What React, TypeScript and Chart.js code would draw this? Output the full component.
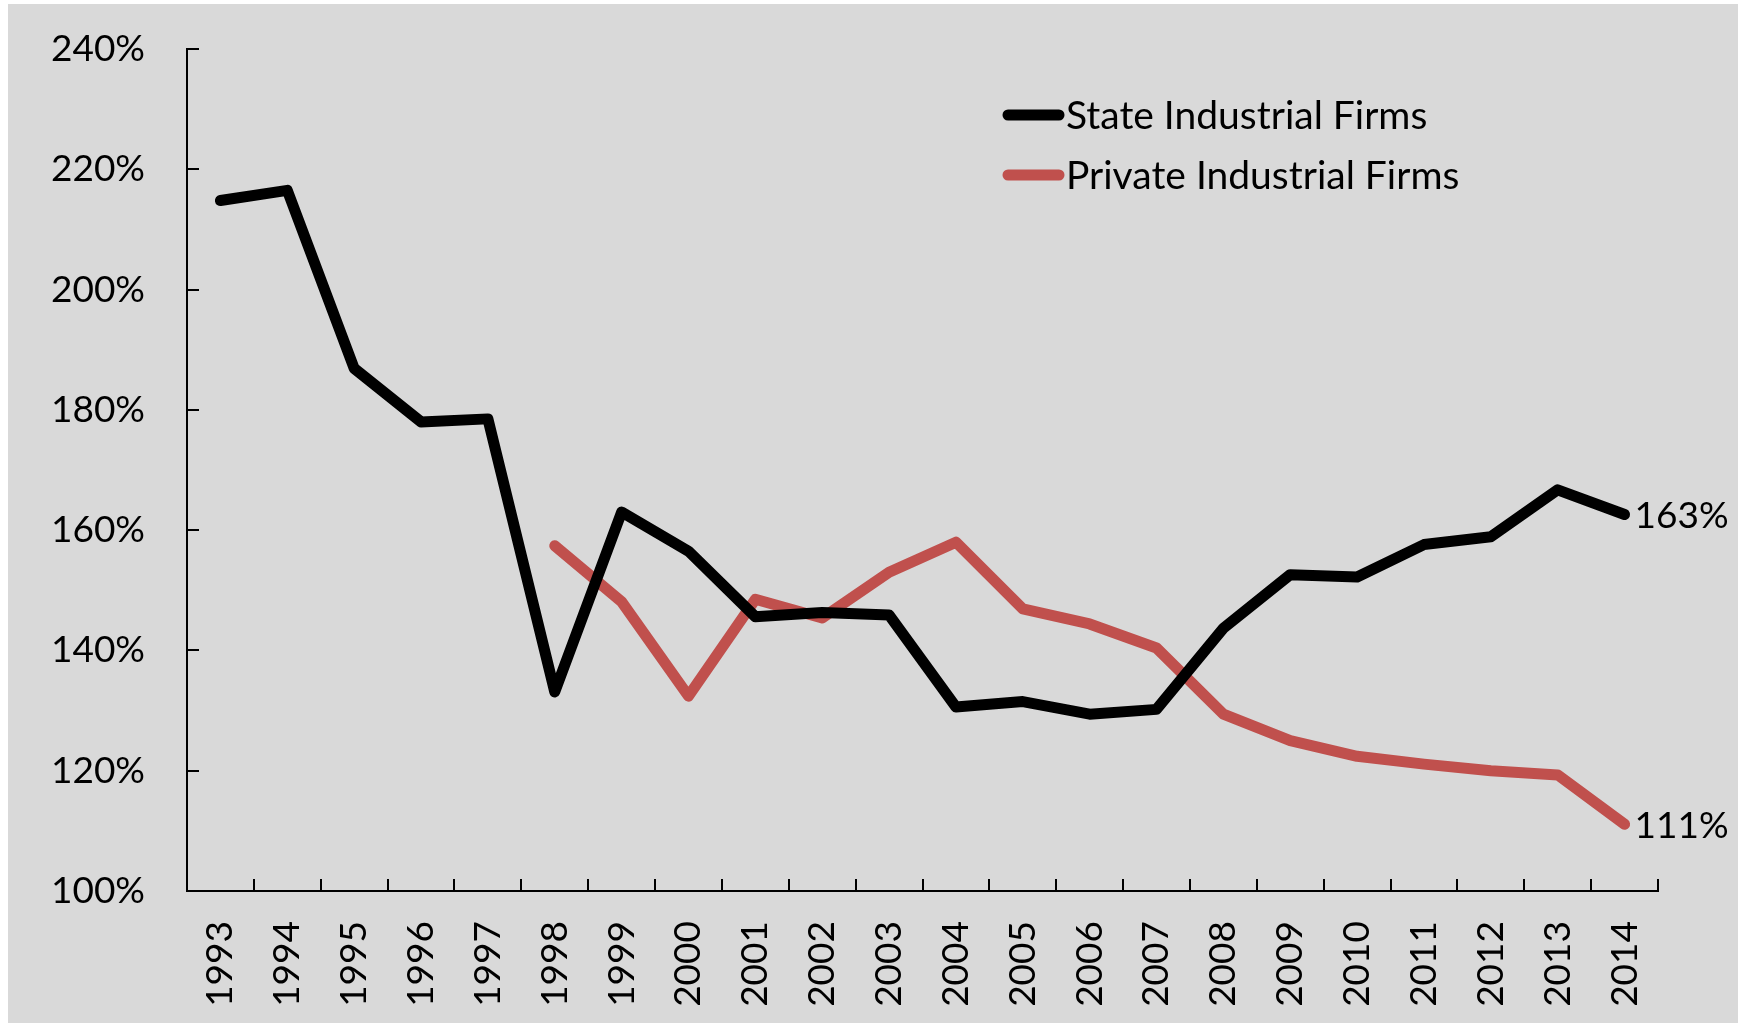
import React, { useEffect, useRef } from "react";
import { Chart, registerables } from "chart.js";

Chart.register(...registerables);

const years = [
  "1993", "1994", "1995", "1996", "1997", "1998", "1999", "2000", "2001", "2002", "2003",
  "2004", "2005", "2006", "2007", "2008", "2009", "2010", "2011", "2012", "2013", "2014",
];

const stateFirms = [
  214.8, 216.5, 186.9, 178.0, 178.5, 133.1, 163.0, 156.5, 145.6, 146.3, 145.9,
  130.6, 131.5, 129.4, 130.2, 143.7, 152.6, 152.2, 157.6, 158.9, 166.7, 162.6,
];

const privateFirms = [
  null, null, null, null, null, 157.4, 148.1, 132.4, 148.5, 145.4, 153.0,
  158.0, 146.9, 144.4, 140.4, 129.4, 125.0, 122.4, 121.1, 120.0, 119.3, 111.1,
];

const yTickValues = [100, 120, 140, 160, 180, 200, 220, 240];
const seriesNames = ["State Industrial Firms", "Private Industrial Firms"];
const seriesColors = ["#000000", "#c0504d"];
const endLabels = ["163%", "111%"];

const FONT_FAMILY = "Lato, 'Open Sans', sans-serif";
const FONT_SIZE = 37;
const LEGEND_FONT_SIZE = 39;

const decorPlugin = {
  id: "decor",
  afterDraw(chart: any) {
    const ctx = chart.ctx as CanvasRenderingContext2D;
    const xs = chart.scales.x;
    const ys = chart.scales.y;
    const area = chart.chartArea;
    ctx.save();
    // inner tick marks
    ctx.strokeStyle = "#000";
    ctx.lineWidth = 2;
    ctx.beginPath();
    for (let i = 0; i <= years.length; i++) {
      const px = Math.round(xs.getPixelForValue(i - 0.5));
      ctx.moveTo(px, area.bottom);
      ctx.lineTo(px, area.bottom - 12);
    }
    ys.ticks.forEach((_t: any, i: number) => {
      const py = Math.round(ys.getPixelForTick(i));
      ctx.moveTo(area.left, py);
      ctx.lineTo(area.left + 12, py);
    });
    ctx.stroke();

    // legend
    ctx.font = `${LEGEND_FONT_SIZE}px ${FONT_FAMILY}`;
    ctx.textBaseline = "middle";
    ctx.textAlign = "left";
    const legendX = 1000;
    const legendY = [111, 171];
    chart.data.datasets.forEach((ds: any, i: number) => {
      ctx.strokeStyle = ds.borderColor;
      ctx.lineWidth = 11;
      ctx.lineCap = "round";
      ctx.beginPath();
      ctx.moveTo(legendX, legendY[i]);
      ctx.lineTo(legendX + 51, legendY[i]);
      ctx.stroke();
      ctx.fillStyle = "#000";
      ctx.fillText(ds.label, legendX + 58, legendY[i] + 1);
    });

    // end labels
    ctx.font = `${FONT_SIZE}px ${FONT_FAMILY}`;
    chart.data.datasets.forEach((_ds: any, i: number) => {
      const meta = chart.getDatasetMeta(i);
      const pt = meta.data[meta.data.length - 1];
      if (!pt) return;
      ctx.fillStyle = "#000";
      ctx.fillText(endLabels[i], pt.x + 10, pt.y + 2);
    });
    ctx.restore();
  },
};

export default function App() {
  const canvasRef = useRef<HTMLCanvasElement | null>(null);

  useEffect(() => {
    let chart: Chart | null = null;
    let cancelled = false;
    const create = () => {
      if (cancelled || !canvasRef.current) return;
      chart = new Chart(canvasRef.current, {
        type: "line",
        data: {
          labels: years,
          datasets: [
            {
              label: seriesNames[0],
              data: stateFirms,
              borderColor: seriesColors[0],
              backgroundColor: seriesColors[0],
              borderWidth: 11,
              pointRadius: 0,
              tension: 0,
              borderCapStyle: "round",
              borderJoinStyle: "round",
            },
            {
              label: seriesNames[1],
              data: privateFirms,
              borderColor: seriesColors[1],
              backgroundColor: seriesColors[1],
              borderWidth: 11,
              pointRadius: 0,
              tension: 0,
              borderCapStyle: "round",
              borderJoinStyle: "round",
            },
          ],
        },
        options: {
          responsive: false,
          animation: false,
          events: [],
          layout: { padding: { top: 45, right: 80, left: 0, bottom: 0 } },
          plugins: {
            legend: { display: false },
            tooltip: { enabled: false },
            title: { display: false },
          },
          scales: {
            x: {
              type: "category",
              offset: true,
              grid: { display: false, drawTicks: false },
              border: { display: true, color: "#000", width: 2 },
              ticks: {
                color: "#000",
                font: { family: FONT_FAMILY, size: FONT_SIZE },
                minRotation: 90,
                maxRotation: 90,
                autoSkip: false,
                padding: 30,
              },
              afterFit: (scale: any) => {
                scale.height = 132;
                scale.paddingLeft = 0;
                scale.paddingRight = 0;
              },
            },
            y: {
              type: "linear",
              min: 100,
              max: 240,
              grid: { display: false, drawTicks: false },
              border: { display: true, color: "#000", width: 2 },
              afterBuildTicks: (scale: any) => {
                scale.ticks = yTickValues.map((v) => ({ value: v }));
              },
              ticks: {
                color: "#000",
                font: { family: FONT_FAMILY, size: FONT_SIZE },
                padding: 42,
                callback: (v: any) => `${v}%`,
              },
              afterFit: (scale: any) => {
                scale.width = 179;
                scale.paddingTop = 0;
                scale.paddingBottom = 0;
              },
            },
          },
        },
        plugins: [decorPlugin],
      });
    };
    if ((document as any).fonts && (document as any).fonts.load) {
      (document as any).fonts
        .load(`${FONT_SIZE}px Lato`)
        .then(create, create);
    } else {
      create();
    }
    return () => {
      cancelled = true;
      if (chart) chart.destroy();
    };
  }, []);

  return (
    <div
      style={{
        position: "absolute",
        left: 8,
        top: 4,
        width: 1730,
        height: 1019,
        background: "#d9d9d9",
      }}
    >
      <canvas ref={canvasRef} width={1730} height={1019} style={{ display: "block" }} />
    </div>
  );
}
